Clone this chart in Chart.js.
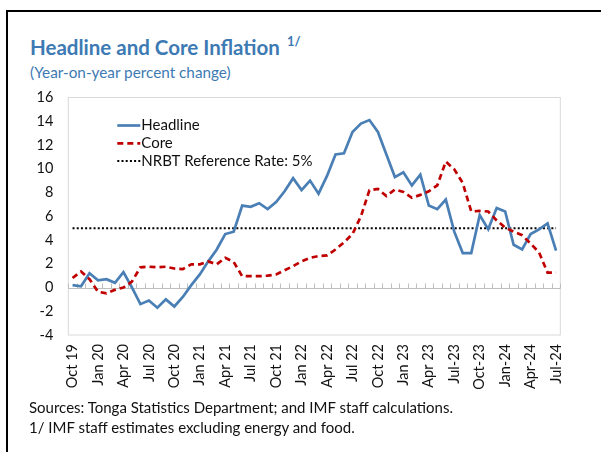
<!DOCTYPE html>
<html>
<head>
<meta charset="utf-8">
<script src="https://cdn.jsdelivr.net/npm/chart.js@4.4.1/dist/chart.umd.min.js"></script>
<style>
  html, body { margin: 0; padding: 0; background: #fff; }
  body { width: 601px; height: 452px; position: relative; overflow: hidden; font-family: Lato, "Noto Sans", sans-serif; }
  #frame { position: absolute; left: 6px; top: 10px; width: 700px; height: 600px; border-left: 2.7px solid #000; border-top: 2.5px solid #000; box-sizing: border-box; }
  #title { position: absolute; left: 30px; top: 34px; font-size: 20.5px; font-weight: bold; color: #3D7AB3; white-space: nowrap; }
  #title sup { font-size: 13px; font-weight: bold; position: relative; top: -1px; margin-left: 7px; }
  #subtitle { position: absolute; left: 30px; top: 63px; font-size: 15.3px; color: #3D7AB3; white-space: nowrap; }
  .note { position: absolute; left: 29px; font-size: 15px; color: #111; white-space: nowrap; }
  #c { position: absolute; left: 0; top: 0; }
</style>
</head>
<body>
<div id="frame"></div>
<div id="title">Headline and Core Inflation<sup>1/</sup></div>
<div id="subtitle">(Year-on-year percent change)</div>
<canvas id="c" width="601" height="452"></canvas>
<div class="note" style="top:398px">Sources: Tonga Statistics Department; and IMF staff calculations.</div>
<div class="note" style="top:418px">1/ IMF staff estimates excluding energy and food.</div>
<script>
const categories = [
  "Oct 19","Nov 19","Dec 19",
  "Jan 20","Feb 20","Mar 20","Apr 20","May 20","Jun 20","Jul 20","Aug 20","Sep 20","Oct 20","Nov 20","Dec 20",
  "Jan 21","Feb 21","Mar 21","Apr 21","May 21","Jun 21","Jul 21","Aug 21","Sep 21","Oct 21","Nov 21","Dec 21",
  "Jan 22","Feb 22","Mar 22","Apr 22","May 22","Jun 22","Jul 22","Aug 22","Sep 22","Oct 22","Nov 22","Dec 22",
  "Jan 23","Feb 23","Mar 23","Apr 23","May 23","Jun 23","Jul-23","Aug-23","Sep-23","Oct-23","Nov-23","Dec-23",
  "Jan-24","Feb-24","Mar-24","Apr-24","May-24","Jun-24","Jul-24"
];
const tickLabels = ["Oct 19","Jan 20","Apr 20","Jul 20","Oct 20","Jan 21","Apr 21","Jul 21","Oct 21","Jan 22",
  "Apr 22","Jul 22","Oct 22","Jan 23","Apr 23","Jul-23","Oct-23","Jan-24","Apr-24","Jul-24"];
const headline = [0.2,0.1,1.2,0.6,0.7,0.4,1.3,0.0,-1.4,-1.1,-1.7,-1.0,-1.6,-0.8,0.2,
  1.1,2.2,3.2,4.5,4.7,6.9,6.8,7.1,6.6,7.2,8.1,9.2,
  8.2,9.0,7.9,9.4,11.2,11.3,13.1,13.8,14.1,13.1,11.2,9.3,
  9.7,8.6,9.5,6.9,6.6,7.4,4.7,2.9,2.9,6.1,4.9,6.7,
  6.4,3.6,3.2,4.5,4.9,5.4,3.1];
const core = [0.8,1.35,0.7,-0.35,-0.5,-0.2,0.0,0.5,1.7,1.75,1.7,1.75,1.6,1.55,1.95,
  1.95,2.2,1.95,2.5,2.15,0.95,0.95,0.95,1.0,1.1,1.45,1.8,
  2.2,2.5,2.65,2.7,3.2,3.8,4.5,6.0,8.2,8.3,7.7,8.25,
  8.05,7.55,7.8,8.1,8.6,10.6,9.95,8.8,6.4,6.45,6.4,5.65,
  5.05,4.7,4.4,3.7,2.95,1.25,1.25];
const refRate = categories.map(() => 5);
const yTicks = [-4,-2,0,2,4,6,8,10,12,14,16];

const FONT = "Lato, 'Noto Sans', sans-serif";

const framePlugin = {
  id: 'framePlugin',
  beforeDatasetsDraw(chart) {
    const {ctx, chartArea: a, scales} = chart;
    ctx.save();
    ctx.strokeStyle = '#D9D9D9';
    ctx.lineWidth = 1;
    ctx.strokeRect(a.left, a.top, a.right - a.left, a.bottom - a.top);
    const y0 = Math.round(scales.y.getPixelForValue(0)) + 0.5;
    ctx.strokeStyle = '#BFBFBF';
    ctx.beginPath();
    ctx.moveTo(a.left, y0); ctx.lineTo(a.right, y0);
    const n = categories.length;
    const step = (scales.x.getPixelForValue(1) - scales.x.getPixelForValue(0));
    for (let k = 0; k <= n; k++) {
      const x = Math.round(scales.x.getPixelForValue(0) - step / 2 + k * step) + 0.5;
      ctx.moveTo(x, y0); ctx.lineTo(x, y0 - 5);
    }
    ctx.stroke();
    ctx.restore();
  },
  afterDraw(chart) {
    const {ctx, chartArea: a} = chart;
    ctx.save();
    ctx.font = "15px " + FONT;
    ctx.fillStyle = '#111';
    ctx.textBaseline = 'middle';
    const x0 = a.left + 49, x1 = a.left + 72;
    chart.data.datasets.forEach((ds, i) => {
      const y = a.top + 28 + i * 17.8;
      ctx.strokeStyle = ds.borderColor;
      ctx.lineWidth = ds.borderWidth;
      ctx.setLineDash(ds.borderDash || []);
      ctx.beginPath(); ctx.moveTo(x0, y); ctx.lineTo(x1, y); ctx.stroke();
      ctx.setLineDash([]);
      ctx.fillText(ds.label, x1 + 1, y);
    });
    ctx.restore();
  }
};

new Chart(document.getElementById('c'), {
  type: 'line',
  data: {
    labels: categories,
    datasets: [
      { label: 'Headline', data: headline, borderColor: '#4A7FB5', borderWidth: 2.7, pointRadius: 0, tension: 0, order: 2 },
      { label: 'Core', data: core, borderColor: '#C00000', borderWidth: 2.7, borderDash: [6, 4], pointRadius: 0, tension: 0, order: 1 },
      { label: 'NRBT Reference Rate: 5%', data: refRate, borderColor: '#000', borderWidth: 2, borderDash: [2, 2.2], pointRadius: 0, tension: 0, order: 3 }
    ]
  },
  options: {
    responsive: false,
    animation: false,
    devicePixelRatio: 1,
    layout: { padding: { left: 0, top: 97.5, right: 40.7, bottom: 57 } },
    plugins: { legend: { display: false }, tooltip: { enabled: false } },
    scales: {
      x: {
        type: 'category',
        offset: true,
        grid: { display: false, drawTicks: false },
        border: { display: false },
        ticks: {
          autoSkip: false, minRotation: 90, maxRotation: 90, padding: 9,
          color: '#111', font: { family: FONT, size: 14.5 },
          callback: (v, i) => (i % 3 === 0 ? tickLabels[i / 3] : '')
        },
        afterFit: s => { s.height = 60; }
      },
      y: {
        min: -4, max: 16,
        afterBuildTicks: s => { s.ticks = yTicks.map(v => ({ value: v })); },
        grid: { display: false, drawTicks: false },
        border: { display: false },
        ticks: { padding: 15, color: '#111', font: { family: FONT, size: 14.5 } },
        afterFit: s => { s.width = 68.3; }
      }
    }
  },
  plugins: [framePlugin]
});
</script>
</body>
</html>
